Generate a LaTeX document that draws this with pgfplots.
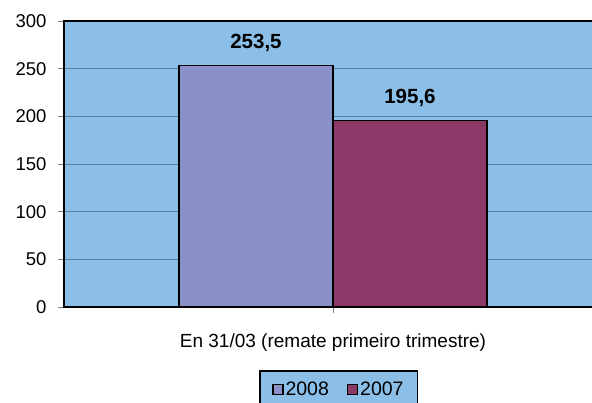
\documentclass[border=0pt]{standalone}
\usepackage{pgfplots}
\pgfplotsset{compat=1.18}
\usepackage{fontspec}
\setmainfont{Liberation Sans}
\definecolor{bgblue}{RGB}{139,191,232}
\definecolor{barA}{RGB}{137,145,200}
\definecolor{barB}{RGB}{139,57,102}
\definecolor{gridc}{RGB}{90,130,160}
\begin{document}
\begin{tikzpicture}
\begin{axis}[
  at={(0pt,0pt)}, anchor=south west,
  scale only axis=true,
  width=538pt, height=286pt,
  ymin=0, ymax=300, ytick={0,50,...,300},
  xmin=-1, xmax=1, xtick={0}, xticklabels={},
  ybar=0pt, bar width=154pt,
  axis background/.style={fill=bgblue},
  axis line style={black, line width=1.6pt},
  ymajorgrids=true,
  grid style={gridc, line width=0.8pt},
  major tick length=6pt,
  tick style={gray, line width=0.8pt},
  ytick pos=left, xtick pos=bottom,
  tick align=outside,
  /pgf/number format/assume math mode=true,
  yticklabel style={font=\fontsize{18.5}{20}\selectfont, xshift=-8pt},
  xlabel={En 31/03 (remate primeiro trimestre)},
  xlabel style={font=\fontsize{19}{21}\selectfont, yshift=-10pt},
  nodes near coords,
  nodes near coords style={font=\fontsize{20.5}{22}\bfseries, anchor=south, yshift=10pt,
    /pgf/number format/.cd, use comma, fixed, fixed zerofill, precision=1},
  legend columns=2,
  legend style={at={(axis description cs:0.511,-0.22)}, anchor=north,
    fill=bgblue, draw=black, line width=1.6pt,
    font=\fontsize{19.5}{21}\selectfont,
    inner xsep=12pt, inner ysep=9pt,
    /tikz/every even column/.append style={column sep=16pt}},
  legend image code/.code={\draw[line width=1.3pt, draw=black, #1] (0pt,-5pt) rectangle (10pt,5pt);},
]
\addplot[fill=barA, draw=black, line width=1.4pt] coordinates {(0,253.5)};
\addplot[fill=barB, draw=black, line width=1.4pt] coordinates {(0,195.6)};
\legend{2008,2007}
\end{axis}
\pgfresetboundingbox
\useasboundingbox (-64pt,-95pt) rectangle (528pt,307pt);
\end{tikzpicture}
\end{document}
